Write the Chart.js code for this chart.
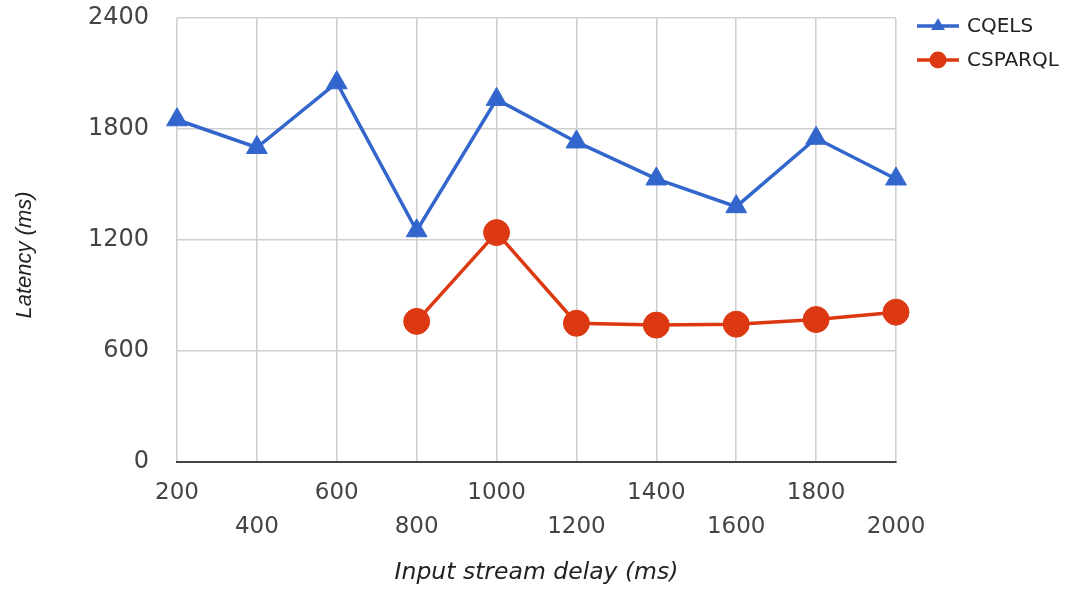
<!DOCTYPE html>
<html>
<head>
<meta charset="utf-8">
<style>
  html, body { margin: 0; padding: 0; background: #fff; }
  #wrap { width: 1068px; height: 589px; position: relative; }
</style>
<script src="https://cdn.jsdelivr.net/npm/chart.js@4.4.1/dist/chart.umd.min.js"></script>
</head>
<body>
<div id="wrap"><canvas id="chart" width="1068" height="589"></canvas></div>
<script>
// Input stream delay (ms)
const delays = [200, 400, 600, 800, 1000, 1200, 1400, 1600, 1800, 2000];
// Latency (ms) per engine
const cqels = [1850, 1700, 2050, 1250, 1960, 1730, 1530, 1380, 1750, 1530];
const csparql = [null, null, null, 760, 1240, 750, 740, 745, 770, 810];
const yTicks = [0, 600, 1200, 1800, 2400];

const BLUE = '#3366cc';
const RED = '#dc3912';

// Alternate tick labels between two rows so they do not collide
const xLabels = delays.map((d, i) => (i % 2 === 0 ? String(d) : ['', String(d)]));

// Legend drawn as a line sample with the series marker, right of the plot
const lineLegend = {
  id: 'lineLegend',
  afterDraw(chart) {
    const { ctx, chartArea } = chart;
    const x0 = chartArea.right + 21;
    const x1 = chartArea.right + 63;
    const rows = [26, 60];
    chart.data.datasets.forEach((ds, i) => {
      const y = rows[i];
      const c = ds.borderColor;
      ctx.save();
      ctx.strokeStyle = c;
      ctx.lineWidth = 3.5;
      ctx.beginPath();
      ctx.moveTo(x0, y);
      ctx.lineTo(x1, y);
      ctx.stroke();
      ctx.fillStyle = c;
      const cx = (x0 + x1) / 2;
      ctx.beginPath();
      if (ds.pointStyle === 'triangle') {
        const r = 8;
        ctx.moveTo(cx, y - r);
        ctx.lineTo(cx + r * 0.866, y + r / 2);
        ctx.lineTo(cx - r * 0.866, y + r / 2);
        ctx.closePath();
      } else {
        ctx.arc(cx, y, 8.5, 0, Math.PI * 2);
      }
      ctx.fill();
      ctx.fillStyle = '#222';
      ctx.font = '20px "DejaVu Sans"';
      ctx.textBaseline = 'middle';
      ctx.textAlign = 'left';
      ctx.fillText(ds.label, x1 + 8, y + 1);
      ctx.restore();
    });
  }
};

// Vertical axis title, drawn in the space reserved left of the tick labels
const yAxisTitle = {
  id: 'yAxisTitle',
  afterDraw(chart) {
    const { ctx, chartArea } = chart;
    ctx.save();
    ctx.translate(25, (chartArea.top + chartArea.bottom) / 2 + 15);
    ctx.rotate(-Math.PI / 2);
    ctx.fillStyle = '#222';
    ctx.font = 'italic 22px "Liberation Sans"';
    ctx.textAlign = 'center';
    ctx.textBaseline = 'middle';
    ctx.fillText('Latency (ms)', 0, 0);
    ctx.restore();
  }
};

new Chart(document.getElementById('chart'), {
  type: 'line',
  data: {
    labels: xLabels,
    datasets: [
      {
        label: 'CQELS',
        data: cqels,
        borderColor: BLUE,
        backgroundColor: BLUE,
        borderWidth: 3.5,
        pointStyle: 'triangle',
        pointRadius: 12,
        pointHoverRadius: 12,
        pointBorderWidth: 1,
        pointBorderColor: BLUE,
        pointBackgroundColor: BLUE,
        tension: 0,
        clip: false
      },
      {
        label: 'CSPARQL',
        data: csparql,
        borderColor: RED,
        backgroundColor: RED,
        borderWidth: 3.5,
        pointStyle: 'circle',
        pointRadius: 13,
        pointHoverRadius: 13,
        pointBorderWidth: 1,
        pointBorderColor: RED,
        pointBackgroundColor: RED,
        tension: 0,
        clip: false
      }
    ]
  },
  options: {
    responsive: false,
    animation: false,
    layout: { padding: { top: 18, right: 172, left: 0, bottom: 0 } },
    plugins: {
      legend: { display: false },
      tooltip: { enabled: false }
    },
    scales: {
      x: {
        offset: false,
        grid: { color: '#d0d0d0', lineWidth: 1.6, drawTicks: false },
        border: { display: true, color: '#444444', width: 2 },
        ticks: {
          autoSkip: false,
          maxRotation: 0,
          minRotation: 0,
          padding: 14,
          color: '#444',
          font: { family: '"DejaVu Sans"', size: 23, lineHeight: 1.48 }
        },
        title: {
          display: true,
          text: 'Input stream delay (ms)',
          color: '#222',
          font: { family: '"DejaVu Sans"', size: 23.5, style: 'italic', lineHeight: 1.2 },
          padding: { top: 0, bottom: 2 }
        },
        afterFit(scale) {
          scale.height = 127;
          scale.paddingLeft = 0;
          scale.paddingRight = 0;
        }
      },
      y: {
        min: 0,
        max: 2400,
        afterBuildTicks(scale) { scale.ticks = yTicks.map(v => ({ value: v })); },
        grid: { color: '#d0d0d0', lineWidth: 1.6, drawTicks: false },
        border: { display: false },
        ticks: {
          padding: 28,
          color: '#444',
          font: { family: '"DejaVu Sans"', size: 24 },
          callback: (v) => String(v)
        },
        afterFit(scale) {
          scale.width = 177;
          scale.paddingTop = 0;
          scale.paddingBottom = 0;
        }
      }
    }
  },
  plugins: [lineLegend, yAxisTitle]
});
</script>
</body>
</html>
